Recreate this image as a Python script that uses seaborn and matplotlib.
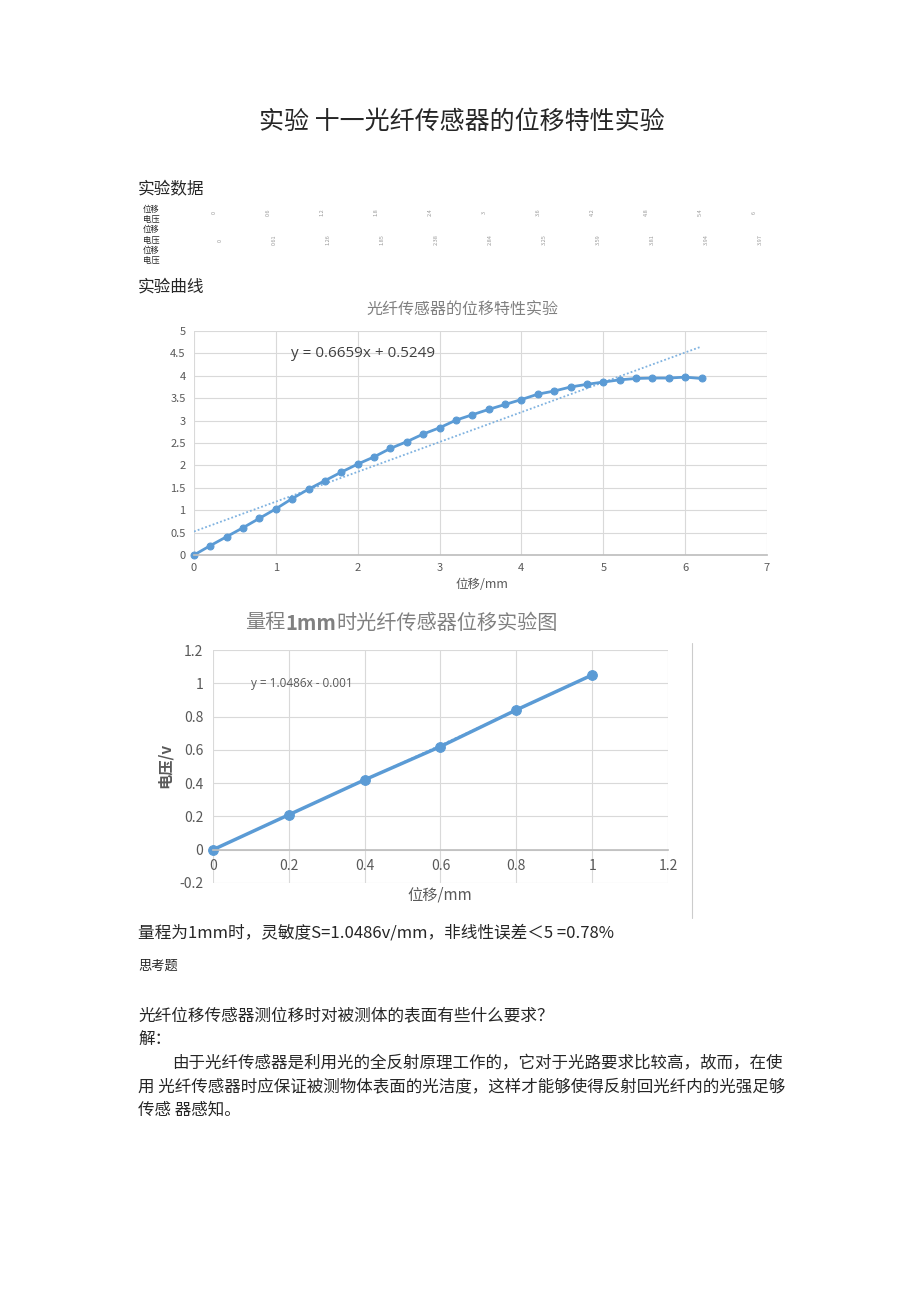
import matplotlib
matplotlib.use("Agg")
import matplotlib.pyplot as plt
import seaborn as sns
from matplotlib.lines import Line2D

# -------------------------------
# Data
# -------------------------------
disp = [0.0, 0.2, 0.4, 0.6, 0.8, 1.0, 1.2, 1.4, 1.6, 1.8, 2.0, 2.2, 2.4, 2.6, 2.8, 3.0,
        3.2, 3.4, 3.6, 3.8, 4.0, 4.2, 4.4, 4.6, 4.8, 5.0, 5.2, 5.4, 5.6, 5.8, 6.0, 6.2]
volt = [0.00, 0.21, 0.41, 0.61, 0.82, 1.03, 1.26, 1.47, 1.66, 1.85, 2.03, 2.19, 2.38, 2.53, 2.70, 2.84,
        3.01, 3.13, 3.25, 3.36, 3.47, 3.59, 3.66, 3.75, 3.81, 3.86, 3.91, 3.94, 3.95, 3.95, 3.97, 3.94]
fit_k, fit_b = 0.6659, 0.5249
fit_x = [0.0, 6.2]

disp_1mm = [0.0, 0.2, 0.4, 0.6, 0.8, 1.0]
volt_1mm = [0.00, 0.21, 0.42, 0.62, 0.84, 1.05]
fit1_k, fit1_b = 1.0486, -0.001
fit1_x = [0.0, 1.0]

ticks1_x = [0, 1, 2, 3, 4, 5, 6, 7]
ticks1_y = [0, 0.5, 1, 1.5, 2, 2.5, 3, 3.5, 4, 4.5, 5]
ticks2_x = [0, 0.2, 0.4, 0.6, 0.8, 1, 1.2]
ticks2_y = [-0.2, 0, 0.2, 0.4, 0.6, 0.8, 1, 1.2]

table_rows = ["位移", "电压", "位移", "电压", "位移", "电压"]

BLUE = "#5B9BD5"
GRAY = "#595959"
GRID = "#D9D9D9"

sns.set_theme(style="white")
plt.rcParams['font.family'] = ['Noto Sans CJK SC', 'DejaVu Sans']

W, H = 920, 1302
fig = plt.figure(figsize=(W / 100, H / 100), dpi=100)


def P(x, y):
    return x / W, 1 - y / H


def txt(x, y, s, **kw):
    kw.setdefault('va', 'center')
    kw.setdefault('ha', 'left')
    return fig.text(*P(x, y), s, **kw)


# -------------------------------
# Page text (top)
# -------------------------------
txt(462, 122, "实验 十一光纤传感器的位移特性实验", fontsize=18, ha='center')
txt(138, 190, "实验数据", fontsize=12)

# squashed data table, barely legible in the source
row_y = [209, 219, 229, 240, 250, 260]
for lab, yy in zip(table_rows, row_y):
    txt(143, yy, lab, fontsize=6)
for i in range(0, len(disp), 3):
    xx = 212 + i * 18
    txt(xx, 212, f"{disp[i]:g}", fontsize=4, color="#999999", rotation=90)
    txt(xx + 6, 240, f"{volt[i]:g}", fontsize=4, color="#999999", rotation=90)

txt(138, 287, "实验曲线", fontsize=12)

# -------------------------------
# Chart 1: full range
# -------------------------------
ax1 = fig.add_axes([*P(194, 555), (767 - 194) / W, (555 - 331) / H])
sns.lineplot(x=fit_x, y=[fit_k * v + fit_b for v in fit_x], ax=ax1,
             color="#7FB2E0", lw=1.3, linestyle=(0, (1, 1.2)))
sns.lineplot(x=disp, y=volt, ax=ax1, color=BLUE, lw=2, marker='o',
             markersize=5, markeredgecolor=BLUE, clip_on=False)
ax1.set_xlim(0, 7)
ax1.set_ylim(0, 5)
ax1.set_xticks(ticks1_x)
ax1.set_yticks(ticks1_y)
ax1.set_xticklabels([f"{v:g}" for v in ticks1_x])
ax1.set_yticklabels([f"{v:g}" for v in ticks1_y])
ax1.grid(True, color=GRID, lw=0.8)
for s in ax1.spines.values():
    s.set_visible(False)
ax1.spines['bottom'].set_visible(True)
ax1.spines['bottom'].set_color("#BFBFBF")
ax1.tick_params(length=0, colors=GRAY, labelsize=8, pad=6)
ax1.text(1.18, 4.5, "y = 0.6659x + 0.5249", fontsize=11, color="#404040",
         va='center', family=['Open Sans', 'DejaVu Sans'])
txt(462, 310, "光纤传感器的位移特性实验", fontsize=11.5, color="#808080", ha='center')
txt(482, 584, "位移/mm", fontsize=9, color=GRAY, ha='center')

# -------------------------------
# Chart 2: 1 mm range
# -------------------------------
ax2 = fig.add_axes([*P(213, 883), (668 - 213) / W, (883 - 650) / H])
sns.lineplot(x=fit1_x, y=[fit1_k * v + fit1_b for v in fit1_x], ax=ax2,
             color="#7FB2E0", lw=1.3, linestyle=(0, (1, 1.2)))
sns.lineplot(x=disp_1mm, y=volt_1mm, ax=ax2, color=BLUE, lw=2.5, marker='o',
             markersize=7, markeredgecolor=BLUE, clip_on=False)
ax2.set_xlim(0, 1.2)
ax2.set_ylim(-0.2, 1.2)
ax2.set_xticks(ticks2_x)
ax2.set_yticks(ticks2_y)
ax2.set_xticklabels([f"{v:g}" for v in ticks2_x])
ax2.set_yticklabels([f"{v:g}" for v in ticks2_y])
ax2.grid(True, color=GRID, lw=0.8)
for s in ax2.spines.values():
    s.set_visible(False)
ax2.spines['bottom'].set_visible(True)
ax2.spines['bottom'].set_position(('data', 0))
ax2.spines['bottom'].set_color("#BFBFBF")
ax2.tick_params(length=0, colors=GRAY, labelsize=10, pad=7)
ax2.text(0.1, 1.0, "y = 1.0486x - 0.001", fontsize=8.5, color="#595959",
         va='center', family=['Open Sans', 'DejaVu Sans'])
txt(165, 765, "电压/v", fontsize=11, color=GRAY, ha='center', rotation=90,
    fontweight='bold')
txt(440, 895, "位移/mm", fontsize=11, color=GRAY, ha='center')

# title with bold "1mm"
fig.canvas.draw()
r = fig.canvas.get_renderer()
x0 = 245
for part, w in [("量程", 'normal'), ("1mm", 'bold'), ("时光纤传感器位移实验图", 'normal')]:
    t = txt(x0, 623, part, fontsize=14.5, color="#808080", fontweight=w)
    x0 += t.get_window_extent(r).width

# page edge line on the right of chart 2
fig.add_artist(Line2D([692 / W, 692 / W], [1 - 643 / H, 1 - 918 / H], color="#CCCCCC", lw=0.8))

# -------------------------------
# Page text (bottom)
# -------------------------------
txt(138, 933, "量程为1mm时，灵敏度S=1.0486v/mm，非线性误差＜5 =0.78%", fontsize=12)
txt(138, 966, "思考题", fontsize=9.5)
txt(138, 1016, "光纤位移传感器测位移时对被测体的表面有些什么要求？", fontsize=12)
txt(138, 1039, "解：", fontsize=12)
txt(172, 1064, "由于光纤传感器是利用光的全反射原理工作的，它对于光路要求比较高，故而，在使", fontsize=11.9)
txt(138, 1087, "用 光纤传感器时应保证被测物体表面的光洁度，这样才能够使得反射回光纤内的光强足够", fontsize=11.9)
txt(138, 1110, "传感 器感知。", fontsize=11.9)

fig.savefig("out.png", dpi=100)
